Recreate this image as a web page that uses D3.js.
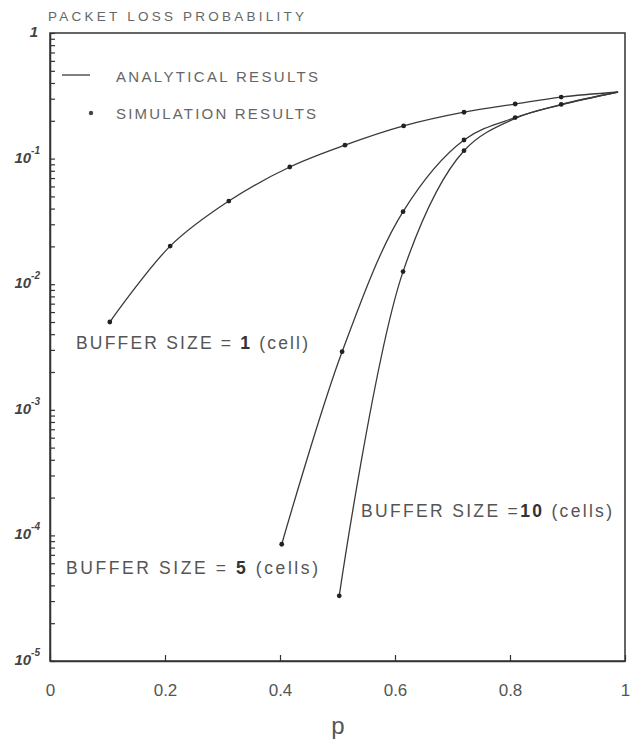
<!DOCTYPE html>
<html>
<head>
<meta charset="utf-8">
<script src="https://cdn.jsdelivr.net/npm/d3@7"></script>
<style>
  body { margin: 0; background: #fff; }
  text { font-family: "Liberation Sans", Arial, sans-serif; }
</style>
</head>
<body>
<svg></svg>
<script>
var width = 635;
var height = 745;

// x axis (p) and y axis (packet loss probability, log)
var pTicks = [0, 0.2, 0.4, 0.6, 0.8, 1];
var pTickLabels = ["0", "0.2", "0.4", "0.6", "0.8", "1"];
var decades = [1, 1e-1, 1e-2, 1e-3, 1e-4, 1e-5];
var decadeExp = ["", "-1", "-2", "-3", "-4", "-5"];

// analytical results (lines)
var pA1 = [0.104, 0.209, 0.311, 0.417, 0.513, 0.615, 0.72, 0.809, 0.889, 0.988];
var lossA1 = [5.0e-3, 0.0201, 0.0459, 0.0857, 0.128, 0.182, 0.234, 0.272, 0.309, 0.339];
var pA5 = [0.403, 0.508, 0.614, 0.72, 0.809, 0.889, 0.988];
var lossA5 = [8.5e-5, 2.9e-3, 0.0378, 0.1406, 0.212, 0.27, 0.339];
var pA10 = [0.503, 0.614, 0.72, 0.809, 0.889, 0.988];
var lossA10 = [3.3e-5, 0.0126, 0.1156, 0.209, 0.268, 0.339];

// simulation results (dots)
var pS1 = [0.104, 0.209, 0.311, 0.417, 0.513, 0.615, 0.72, 0.809, 0.889];
var lossS1 = [5.0e-3, 0.0201, 0.0459, 0.0857, 0.128, 0.182, 0.234, 0.272, 0.309];
var pS5 = [0.403, 0.508, 0.614, 0.72, 0.809, 0.889];
var lossS5 = [8.5e-5, 2.9e-3, 0.0378, 0.1406, 0.212, 0.27];
var pS10 = [0.503, 0.614, 0.72];
var lossS10 = [3.3e-5, 0.0126, 0.1156];

var svg = d3.select("svg")
  .attr("width", width)
  .attr("height", height);

var x = d3.scaleLinear().domain([0, 1]).range([50, 625]);
var y = d3.scaleLog().domain([1e-5, 1]).range([661, 33]);

var ink = "#333";

// frame
svg.append("rect")
  .attr("x", x(0)).attr("y", y(1))
  .attr("width", x(1) - x(0)).attr("height", y(1e-5) - y(1))
  .attr("fill", "none").attr("stroke", ink).attr("stroke-width", 1.5);

// x axis, ticks inward
var xAxis = svg.append("g")
  .attr("transform", "translate(0," + y(1e-5) + ")")
  .call(d3.axisBottom(x).tickValues(pTicks)
    .tickFormat(function(d, i) { return pTickLabels[i]; })
    .tickSize(-6).tickSizeOuter(0).tickPadding(23));
xAxis.select(".domain").attr("stroke", ink).attr("stroke-width", 1.5);
xAxis.selectAll("line").attr("stroke", ink).attr("stroke-width", 1.2);
xAxis.selectAll("text")
  .attr("font-size", 17).attr("fill", "#555")
  .style("font-family", "Liberation Sans, Arial, sans-serif");

// y axis, log minor ticks inward
var yAxis = svg.append("g")
  .attr("transform", "translate(" + x(0) + ",0)")
  .call(d3.axisLeft(y).tickValues(y.ticks())
    .tickFormat("").tickSize(-5).tickSizeOuter(0));
yAxis.select(".domain").attr("stroke", ink).attr("stroke-width", 1.5);
yAxis.selectAll("line").attr("stroke", ink).attr("stroke-width", 1.2);

// decade labels
var decLab = svg.append("g").selectAll("text")
  .data(decades)
  .enter().append("text")
  .attr("x", 40)
  .attr("y", function(d) { return y(d) + 4; })
  .attr("text-anchor", "end")
  .attr("font-size", 15)
  .attr("font-style", "italic")
  .attr("font-weight", "bold")
  .attr("fill", "#444");
decLab.each(function(d, i) {
  var t = d3.select(this);
  if (i == 0) {
    t.attr("x", 38).text("1");
    return;
  }
  t.append("tspan").text("10");
  t.append("tspan").attr("dy", -9).attr("font-size", 10).text(decadeExp[i]);
});

// axis titles
svg.append("text")
  .attr("x", 48).attr("y", 21)
  .attr("font-size", 13.5).attr("fill", "#666")
  .attr("textLength", 256).attr("lengthAdjust", "spacing")
  .text("PACKET LOSS PROBABILITY");

svg.append("text")
  .attr("x", 338).attr("y", 734)
  .attr("text-anchor", "middle")
  .attr("font-size", 24).attr("fill", "#555")
  .text("p");

// curves
var line = d3.line()
  .x(function(d) { return x(d[0]); })
  .y(function(d) { return y(d[1]); })
  .curve(d3.curveCatmullRom.alpha(0.5));

var curves = [[pA1, lossA1], [pA5, lossA5], [pA10, lossA10]];
svg.append("g").selectAll("path")
  .data(curves)
  .enter().append("path")
  .attr("d", function(c) { return line(d3.zip(c[0], c[1])); })
  .attr("fill", "none")
  .attr("stroke", "#3a3a3a")
  .attr("stroke-width", 1.3);

var sims = d3.zip(pS1, lossS1).concat(d3.zip(pS5, lossS5), d3.zip(pS10, lossS10));
svg.append("g").selectAll("circle")
  .data(sims)
  .enter().append("circle")
  .attr("cx", function(d) { return x(d[0]); })
  .attr("cy", function(d) { return y(d[1]); })
  .attr("r", 2.4)
  .attr("fill", "#222");

// legend
svg.append("line")
  .attr("x1", 62).attr("x2", 90).attr("y1", 75).attr("y2", 75)
  .attr("stroke", "#3a3a3a").attr("stroke-width", 1.3);
svg.append("circle")
  .attr("cx", 91).attr("cy", 113).attr("r", 2.2).attr("fill", "#444");
svg.append("text")
  .attr("x", 116).attr("y", 82)
  .attr("font-size", 15).attr("fill", "#666")
  .attr("textLength", 202).attr("lengthAdjust", "spacing")
  .text("ANALYTICAL RESULTS");
svg.append("text")
  .attr("x", 116).attr("y", 119)
  .attr("font-size", 15).attr("fill", "#666")
  .attr("textLength", 200).attr("lengthAdjust", "spacing")
  .text("SIMULATION RESULTS");

// buffer size labels
function bufLabel(px, py, len, num, rest) {
  var t = svg.append("text")
    .attr("x", px).attr("y", py)
    .attr("font-size", 17.5).attr("fill", "#555")
    .attr("textLength", len).attr("lengthAdjust", "spacing");
  t.append("tspan").text("BUFFER SIZE =");
  t.append("tspan").attr("font-weight", "bold").attr("fill", "#333").text(num);
  t.append("tspan").text(rest);
}
bufLabel(76, 349, 232, " 1", " (cell)");
bufLabel(66, 574, 252, " 5", " (cells)");
bufLabel(361, 517, 251, "10", " (cells)");
</script>
</body>
</html>
